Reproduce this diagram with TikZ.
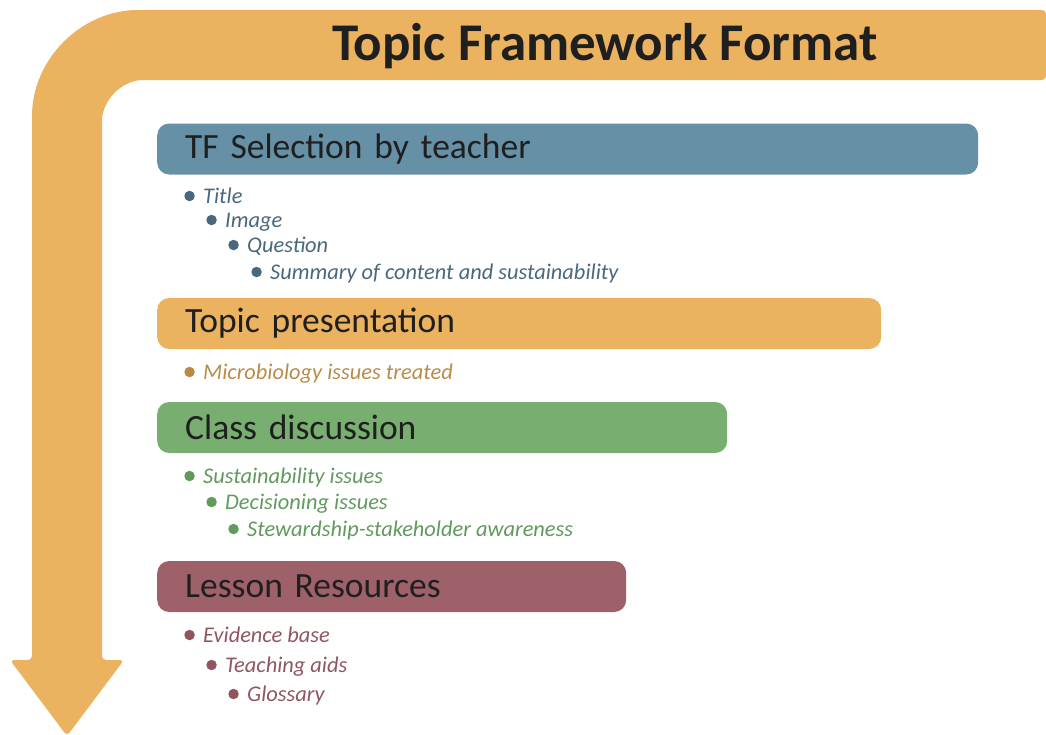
\documentclass[tikz,border=0pt]{standalone}
\usepackage{fontspec}
\setmainfont{Carlito}
\usetikzlibrary{positioning}
\definecolor{flow}{HTML}{EBB25F}
\definecolor{tfblue}{HTML}{6690A5}
\definecolor{tfgreen}{HTML}{78AF70}
\definecolor{tfred}{HTML}{9E616A}
\definecolor{txblue}{HTML}{4A687D}
\definecolor{txorange}{HTML}{B98B48}
\definecolor{txgreen}{HTML}{609A5C}
\definecolor{txred}{HTML}{8F5660}
\tikzset{
  box/.style={fill=#1, rounded corners=12pt, anchor=west, minimum height=51pt,
    inner xsep=28pt, inner ysep=0pt, align=left, text=black!88,
    font=\fontsize{35.5}{40}\selectfont},
  bullet/.style={circle, fill=#1, inner sep=0pt, text width=0pt, text height=0pt,
    text depth=0pt, minimum size=10.5pt, label distance=8pt},
  item/.style={anchor=west, inner sep=0pt, text=#1, text height=17pt, text depth=2pt,
    font=\fontsize{22.4}{24}\selectfont\itshape,
    label={[bullet=#1]left:{}}},
}
\begin{document}
\begin{tikzpicture}[x=1pt,y=-1pt]
    \useasboundingbox (0,0) rectangle (1046,734);

    % bent arrow
    \fill[flow, rounded corners=4pt] (1046,10) -- (142,10)
      arc[start angle=270, end angle=180, radius=110] -- (32,660) -- (10,660)
      -- (67,736) -- (124,660) -- (102,660) -- (102,125)
      arc[start angle=180, end angle=270, radius=45] -- (1046,80) -- cycle;
    \node[font=\fontsize{53}{56}\selectfont\bfseries, text=black!88] (title) at (605,46) {Topic Framework Format};

    % headings
    \node[box=tfblue, text width=765pt] (sel) at (157,149) {TF Selection by teacher};
    \node[box=flow, text width=668pt] (pres) at (157,323.5) {Topic presentation};
    \node[box=tfgreen, text width=514pt] (disc) at (157,427.5) {Class discussion};
    \node[box=tfred, text width=413pt] (res) at (157,586.5) {Lesson Resources};

    % items
    \node[item=txblue] (s1) at (203,196) {Title};
    \node[item=txblue] (s2) at (225,220) {Image};
    \node[item=txblue] (s3) at (247,245) {Question};
    \node[item=txblue] (s4) at (270,272) {Summary of content and sustainability};

    \node[item=txorange] (p1) at (203,372) {Microbiology issues treated};

    \node[item=txgreen] (d1) at (203,476) {Sustainability issues};
    \node[item=txgreen] (d2) at (225,502) {Decisioning issues};
    \node[item=txgreen] (d3) at (247,529) {Stewardship-stakeholder awareness};

    \node[item=txred] (r1) at (203,635) {Evidence base};
    \node[item=txred] (r2) at (225,665) {Teaching aids};
    \node[item=txred] (r3) at (247,694) {Glossary};
\end{tikzpicture}
\end{document}
